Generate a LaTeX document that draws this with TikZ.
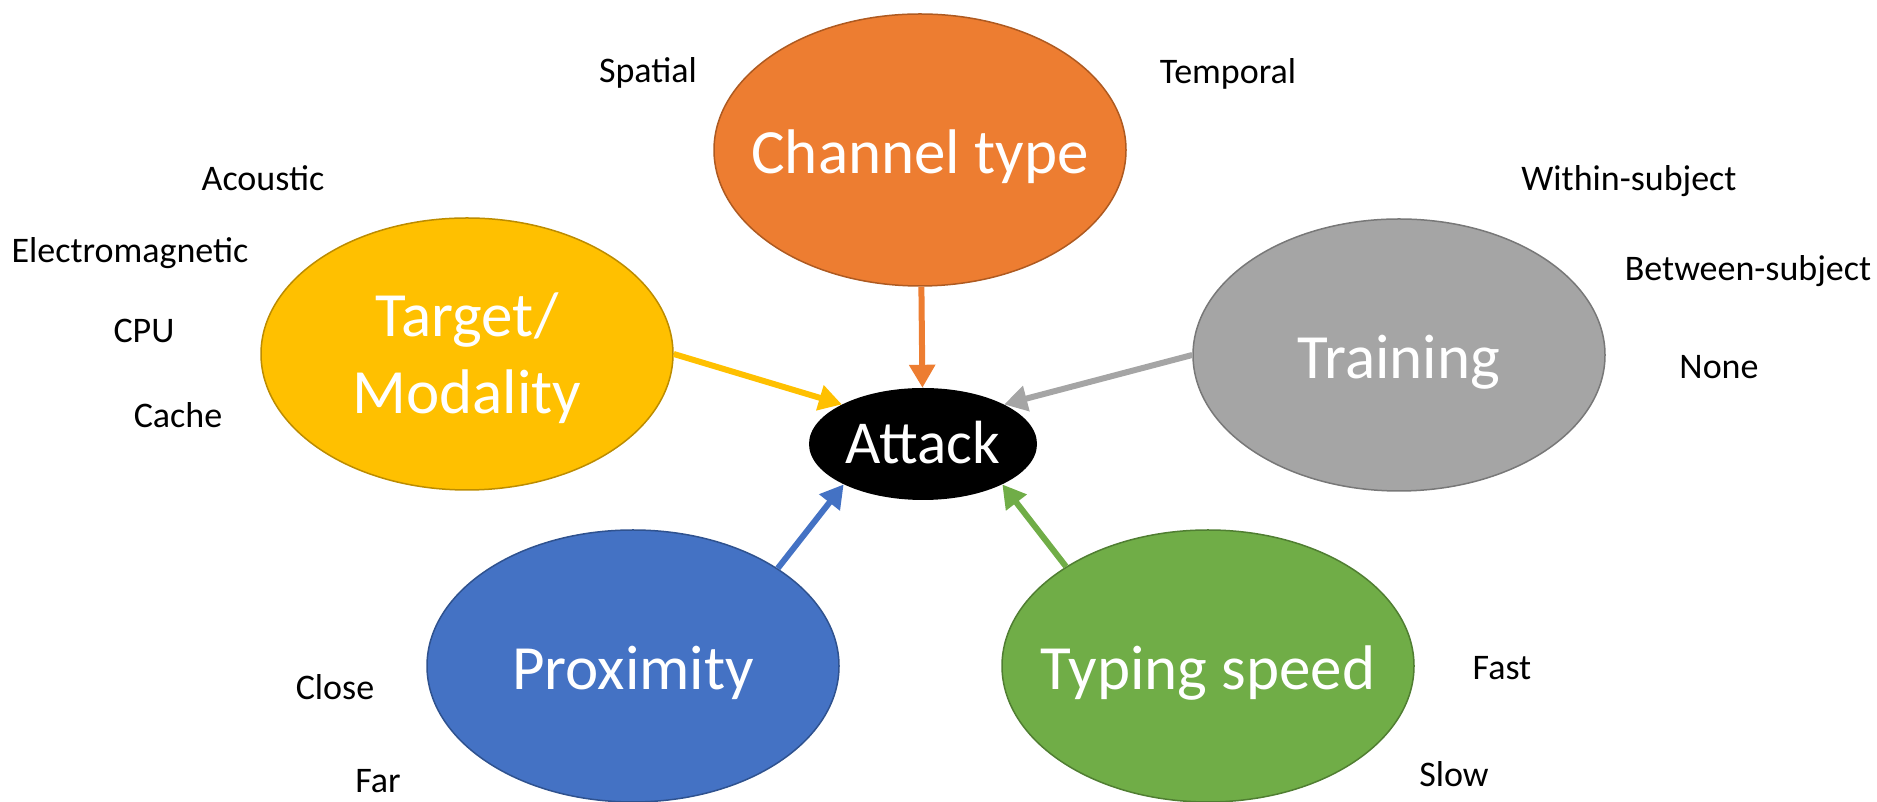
\documentclass[tikz,border=0pt]{standalone}
\usepackage{fontspec}
\setmainfont{Carlito}
\usetikzlibrary{shapes.geometric,arrows.meta}

% Changing colors
\definecolor{r237g125b49}{RGB}{237,125,49}
\definecolor{r174g90b33}{RGB}{174,90,33}
\definecolor{r255g192b0}{RGB}{255,192,0}
\definecolor{r188g140b0}{RGB}{188,140,0}
\definecolor{r165g165b165}{RGB}{165,165,165}
\definecolor{r120g120b120}{RGB}{120,120,120}
\definecolor{r68g114b196}{RGB}{68,114,196}
\definecolor{r47g82b143}{RGB}{47,82,143}
\definecolor{r112g173b71}{RGB}{112,173,71}
\definecolor{r80g126b50}{RGB}{80,126,50}

\tikzset{
  bigbubble/.style={ellipse, inner xsep=-40pt, inner ysep=0pt,
    minimum width=412pt, minimum height=272pt,
    line width=1.5pt, text=white, align=center,
    font=\fontsize{63}{77}\selectfont, text height=58pt, text depth=10pt},
  valuetext/.style={inner sep=0pt, font=\fontsize{36}{43}\selectfont,
    text height=29pt, text depth=3pt},
  feed/.style={line width=6pt, -{Triangle[width=25pt,length=23pt]}}
}

\begin{document}
\begin{tikzpicture}[x=1pt,y=1pt]
  \useasboundingbox (0,0) rectangle (1877,802);

  % Centre node
  \node[ellipse, fill=black, inner xsep=-10pt, inner ysep=0pt,
    minimum width=228pt, minimum height=112pt, text=white,
    font=\fontsize{61}{70}\selectfont, text height=44pt, text depth=4pt]
    (attack) at (923,358) {Attack};

  % Drawing the five factors
  \node[bigbubble, fill=r237g125b49, draw=r174g90b33] (chantype) at (920,652) {Channel type};
  \node[bigbubble, fill=r255g192b0, draw=r188g140b0, text height=133pt, text depth=13pt]
    (target) at (467,448) {Target/\\Modality};
  \node[bigbubble, fill=r165g165b165, draw=r120g120b120] (training) at (1399,447) {Training};
  \node[bigbubble, fill=r68g114b196, draw=r47g82b143] (proximity) at (633,136) {Proximity};
  \node[bigbubble, fill=r112g173b71, draw=r80g126b50] (typing) at (1208,136) {Typing speed};

  % Drawing arrows into the centre
  \draw[feed, r237g125b49] (chantype) -- (attack);
  \draw[feed, r255g192b0] (target.east) -- (attack.154);
  \draw[feed, r165g165b165] (training.west) -- (attack.26);
  \draw[feed, r68g114b196] (proximity.34) -- (attack.207);
  \draw[feed, r112g173b71] (typing.145) -- (attack.333);

  % Values of each factor
  \node[valuetext] (spatial) at (648,732) {Spatial};
  \node[valuetext] (temporal) at (1228,731) {Temporal};
  \node[valuetext] (acoustic) at (263,624) {Acoustic};
  \node[valuetext] (electro) at (130,552) {Electromagnetic};
  \node[valuetext] (cpu) at (144,472) {CPU};
  \node[valuetext] (cache) at (178,387) {Cache};
  \node[valuetext] (within) at (1629,624) {Within-subject};
  \node[valuetext] (between) at (1748,534) {Between-subject};
  \node[valuetext] (none) at (1719,436) {None};
  \node[valuetext] (close) at (335,115) {Close};
  \node[valuetext] (far) at (378,22) {Far};
  \node[valuetext] (fast) at (1502,135) {Fast};
  \node[valuetext] (slow) at (1454,28) {Slow};
\end{tikzpicture}
\end{document}
